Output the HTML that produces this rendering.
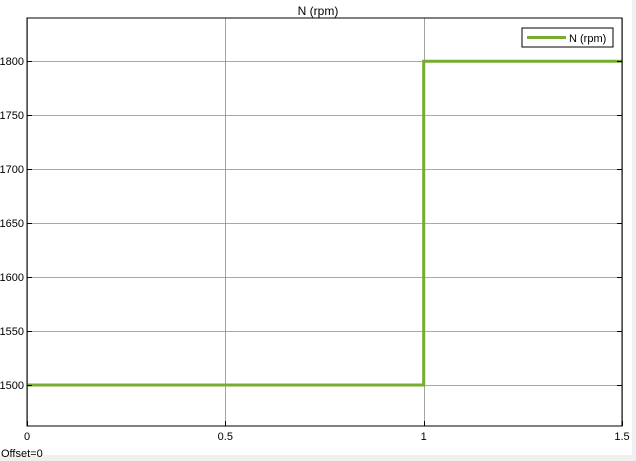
<!DOCTYPE html>
<html><head><meta charset="utf-8"><style>
html,body{margin:0;padding:0;background:#fff;}
svg{display:block;font-family:"Liberation Sans",sans-serif;}
</style></head><body>
<svg width="636" height="461">
<rect x="0" y="0" width="636" height="461" fill="#fff"/>
<rect x="632" y="0" width="4" height="461" fill="#f0f0f0"/>
<rect x="0" y="455" width="636" height="6" fill="#f0f0f0"/>
<text x="318" y="15" font-size="12" text-anchor="middle" fill="#000">N (rpm)</text>
<g id="grid"></g>
<g id="series"></g>
<rect x="27" y="18" width="595" height="408" fill="none" stroke="#000" stroke-width="1"/>
<g id="axes"></g>
<g>
<rect x="522" y="28" width="91" height="19" fill="#fff" stroke="#000"/>
<line x1="527" y1="37.5" x2="566" y2="37.5" stroke="#77ac30" stroke-width="3"/>
<text x="569" y="42" font-size="11" fill="#000">N (rpm)</text>
</g>
<text x="1" y="457" font-size="11" fill="#000">Offset=0</text>
</svg>
<script>
const xTicks=[0,0.5,1,1.5];
const xTickLabels=["0","0.5","1","1.5"];
const yTicks=[1500,1550,1600,1650,1700,1750,1800];
const yTickLabels=["1500","1550","1600","1650","1700","1750","1800"];
const timeValues=[0,1,1,1.5];
const speedValues=[1500,1500,1800,1800];
const L=27,R=622,T=18,B=426;
const xMin=0,xMax=1.5,yMin=1462,yMax=1840;
const sx=v=>L+(v-xMin)/(xMax-xMin)*(R-L);
const sy=v=>B-(v-yMin)/(yMax-yMin)*(B-T);
const NS="http://www.w3.org/2000/svg";
const grid=document.getElementById('grid'),axes=document.getElementById('axes'),series=document.getElementById('series');
function mk(tag,attrs,parent){const e=document.createElementNS(NS,tag);for(const k in attrs)e.setAttribute(k,attrs[k]);parent.appendChild(e);return e;}
xTicks.forEach((t,i)=>{
  const x=Math.round(sx(t))+0.5;
  const g=mk('line',{x1:x,y1:T,x2:x,y2:B,stroke:'#8c8c8c','stroke-width':0.8},grid);
  
  
  const tk=mk('line',{x1:x,y1:B,x2:x,y2:B-5,stroke:'#000'},axes);
  
  
  const tx=mk('text',{x:sx(t),y:440,'font-size':11,'text-anchor':'middle',fill:'#000'},axes);
  tx.textContent=xTickLabels[i];
  
  
});
yTicks.forEach((t,i)=>{
  const y=Math.round(sy(t))+0.5;
  const g=mk('line',{x1:L,y1:y,x2:R,y2:y,stroke:'#8c8c8c','stroke-width':0.8},grid);
  
  
  const tk=mk('line',{x1:L,y1:y,x2:L+5,y2:y,stroke:'#000'},axes);
  
  
  const tk2=mk('line',{x1:R-5,y1:y,x2:R,y2:y,stroke:'#000'},axes);
  
  
  const tx=mk('text',{x:24,y:sy(t)+4,'font-size':11,'text-anchor':'end',fill:'#000'},axes);
  tx.textContent=yTickLabels[i];
  
  
});
const pts=timeValues.map((t,i)=>sx(t).toFixed(1)+','+sy(speedValues[i]).toFixed(1)).join(' ');
const pl=mk('polyline',{points:pts,fill:'none',stroke:'#77ac30','stroke-width':3},series);


</script>
</body></html>
